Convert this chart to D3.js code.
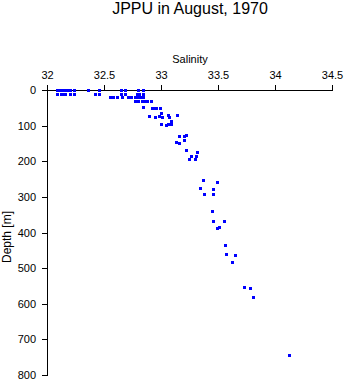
<!DOCTYPE html>
<html>
<head>
<meta charset="utf-8">
<script src="https://cdn.jsdelivr.net/npm/d3@7"></script>
<style>
  html, body { margin: 0; padding: 0; background: #fff; }
  svg { display: block; font-family: "Liberation Sans", Arial, Helvetica, sans-serif; }
</style>
</head>
<body>
<script>
// Salinity (x) and depth in metres (y) for each observation
const salinity = [
  32.09, 32.11, 32.14, 32.16, 32.18, 32.20, 32.24, 32.36, 32.46, 32.65, 32.68, 32.80, 32.84,
  32.09, 32.12, 32.14, 32.16, 32.20, 32.24, 32.42, 32.46, 32.65, 32.68, 32.79, 32.81, 32.84,
  32.55, 32.58, 32.61, 32.66, 32.71, 32.74, 32.77, 32.79, 32.82, 32.84,
  32.77, 32.80, 32.83, 32.85, 32.88, 32.91,
  32.84, 32.92, 32.94, 32.96, 32.99,
  32.895, 32.945, 32.98, 33.00, 33.01, 33.06, 33.07, 33.14, 33.09,
  33.00, 33.04, 33.06, 33.09,
  33.16, 33.20, 33.22, 33.135, 33.16, 33.20,
  33.22, 33.26, 33.32, 33.31, 33.245, 33.295,
  33.37, 33.49, 33.34, 33.455, 33.375, 33.455,
  33.45, 33.455, 33.55, 33.495, 33.51,
  33.56, 33.57, 33.65, 33.62,
  33.73, 33.78, 33.81,
  34.12
];
const depth = [
  1, 1, 1, 1, 1, 1, 1, 1, 1, 1, 1, 1, 1,
  12, 12, 12, 12, 12, 12, 12, 12, 12, 12, 12, 12, 12,
  20, 20, 20, 20, 20, 20, 20, 20, 20, 20,
  32, 32, 32, 32, 32, 32,
  48, 50, 50, 50, 50,
  72, 75, 72, 65, 76, 70, 76, 70, 86,
  96, 99, 95, 95,
  128, 128, 125, 145, 148, 140,
  169, 185, 174, 184, 194, 193,
  253, 259, 275, 277, 291, 291,
  340, 367, 369, 387, 385,
  436, 460, 462, 484,
  552, 557, 581,
  745
];
const xTicks = [32, 32.5, 33, 33.5, 34, 34.5];
const yTicks = [0, 100, 200, 300, 400, 500, 600, 700, 800];
const titleText = "JPPU in August, 1970";
const xLabel = "Salinity";
const yLabel = "Depth [m]";

const W = 346, H = 384;
const svg = d3.select("body").append("svg").attr("width", W).attr("height", H);

const x = d3.scaleLinear().domain([32, 34.5]).range([47, 332]);
const y = d3.scaleLinear().domain([0, 800]).range([90, 375]);

svg.append("text").attr("x", 190).attr("y", 14).attr("text-anchor", "middle")
  .attr("font-size", 16).attr("fill", "#000").text(titleText);

svg.append("text").attr("x", 190).attr("y", 63).attr("text-anchor", "middle")
  .attr("font-size", 11).attr("fill", "#000").text(xLabel);

svg.append("text").attr("transform", "translate(11,237) rotate(-90)")
  .attr("text-anchor", "middle").attr("font-size", 12).attr("fill", "#000").text(yLabel);

// x axis on top, ticks pointing up
const gx = svg.append("g").attr("transform", `translate(0,${y(0)})`)
  .call(d3.axisTop(x).tickValues(xTicks).tickSize(5).tickPadding(6).tickFormat(d3.format("")).tickSizeOuter(0));
// y axis
const gy = svg.append("g").attr("transform", `translate(${x(32)},0)`)
  .call(d3.axisLeft(y).tickValues(yTicks).tickSize(5).tickPadding(6).tickFormat(d3.format("d")).tickSizeOuter(0));

[gx, gy].forEach(g => {
  g.selectAll("path.domain").attr("stroke", "#000").attr("stroke-width", 1);
  g.selectAll("line").attr("stroke", "#000").attr("stroke-width", 1);
  g.selectAll("text").attr("font-size", 11).attr("fill", "#000")
    .attr("font-family", "'Liberation Sans', Arial, Helvetica, sans-serif");
});
gx.attr("shape-rendering", "crispEdges");
gy.attr("shape-rendering", "crispEdges");
// extend y axis line up to the top of the x tick
svg.append("line").attr("x1", x(32) + 0.5).attr("x2", x(32) + 0.5)
  .attr("y1", y(0) - 5).attr("y2", y(800)).attr("stroke", "#000").attr("shape-rendering", "crispEdges");

const pts = salinity.map((s, i) => ({ s, d: depth[i] }));
svg.append("g").selectAll("rect").data(pts).join("rect")
  .attr("x", d => Math.round(x(d.s)) - 1.5)
  .attr("y", d => Math.round(y(d.d)) - 1.5)
  .attr("width", 3).attr("height", 3)
  .attr("fill", "#0000ff").attr("shape-rendering", "crispEdges");
</script>
</body>
</html>
